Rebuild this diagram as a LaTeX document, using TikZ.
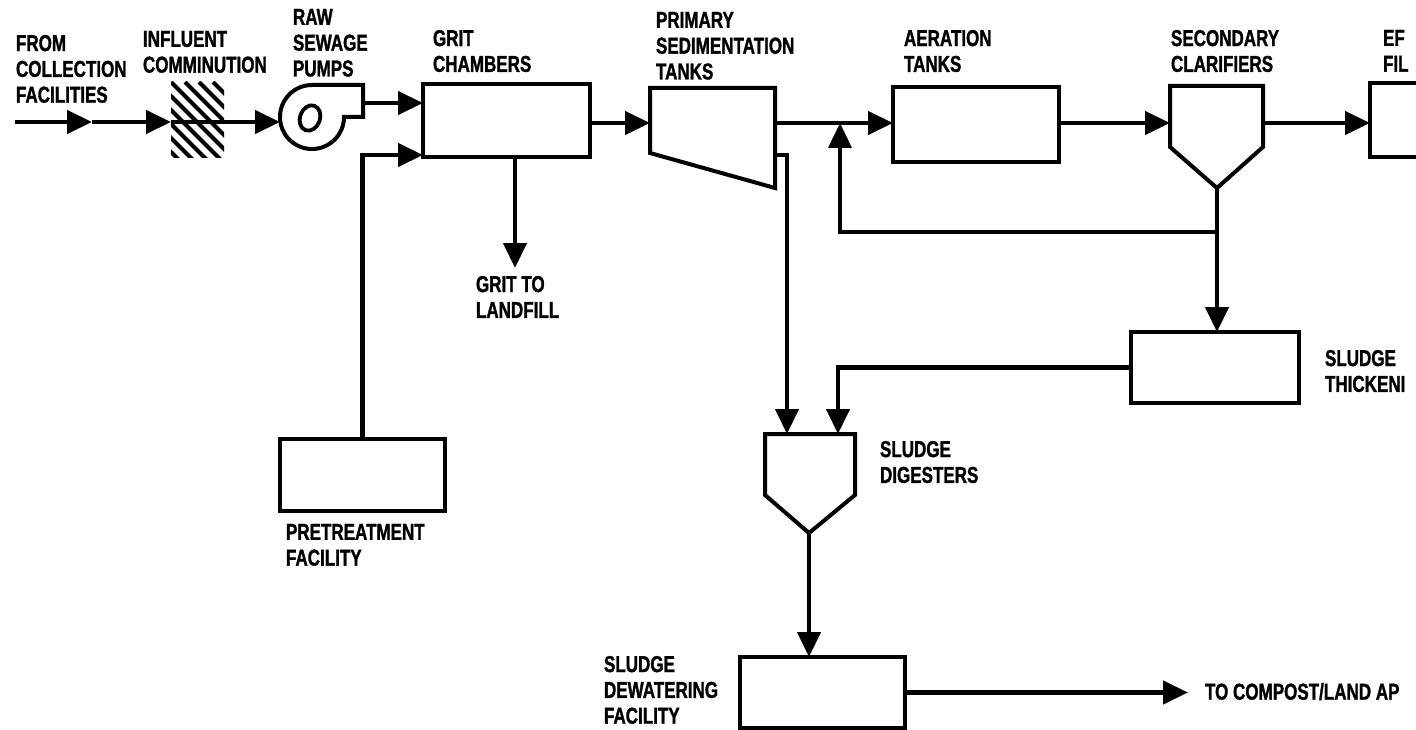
\documentclass[tikz,border=0pt]{standalone}
\usepackage{fontspec}
\setmainfont{Liberation Sans}[FakeStretch=0.74, BoldFeatures={FakeBold=1.3}]
\usetikzlibrary{arrows.meta}
\begin{document}
\begin{tikzpicture}[x=1pt,y=-1pt,
  flow/.style={line width=4.3pt, -{Triangle[length=25pt,width=23pt]}},
  outline/.style={line width=4pt, line join=miter},
  box/.style={draw, line width=4pt, inner sep=0pt, outer sep=0pt},
  lbl/.style={anchor=north west, inner sep=0pt, outer sep=0pt, align=left,
    font=\fontsize{23}{25.8}\selectfont\bfseries},
]
\useasboundingbox (0,0) rectangle (1416,730);
\clip (0,0) rectangle (1416,730);

% ---------- boxes ----------
\node[box, minimum width=167pt, minimum height=73pt] (grit) at (506.5,120.5) {};
\node[box, minimum width=166pt, minimum height=75pt] (aer) at (976,124.5) {};
\node[box, minimum width=168pt, minimum height=71pt] (thick) at (1215,367.5) {};
\node[box, minimum width=165pt, minimum height=72pt] (pre) at (362.5,475) {};
\node[box, minimum width=165pt, minimum height=71pt] (dew) at (822.5,692.5) {};
\node[box, minimum width=90pt, minimum height=74pt] (eff) at (1415,120) {};

% ---------- comminutor (hatched) ----------
\node[inner sep=0pt, outer sep=0pt, minimum width=53pt, minimum height=76pt] (comm) at (197.5,120) {};
\begin{scope}
  \clip (comm.north west) rectangle (comm.south east);
  \foreach \k in {-7,...,4} \draw[line width=4pt] (171+14*\k,82) -- ++(100,100);
\end{scope}

% ---------- pump ----------
\draw[outline] (312,85) -- (363,85) -- (363,117) -- (344,117) arc[start angle=0, end angle=270, radius=32];
\draw[line width=3.8pt, rotate around={-20:(310,118)}] (310,118) ellipse [x radius=10, y radius=13];
\coordinate (pumpin) at (280,122);
\coordinate (pumpout) at (363,103);

% ---------- primary sedimentation tank ----------
\draw[outline] (650,88) -- (775,88) -- (775,188) -- (650,153) -- cycle;
\coordinate (pstin) at (650,123);
\coordinate (pstout) at (775,123);
\coordinate (pstsl) at (775,155);
\coordinate (slc) at (787,155);

% ---------- secondary clarifier ----------
\draw[outline] (1170,86) -- (1263,86) -- (1263,147) -- (1217,188) -- (1170,147) -- cycle;
\coordinate (clarin) at (1170,123);
\coordinate (clarout) at (1263,123);
\coordinate (clarpt) at (1217,188);

% ---------- digester ----------
\draw[outline] (765,434) -- (855,434) -- (855,495) -- (809,533) -- (765,495) -- cycle;
\coordinate (dgA) at (787,434);
\coordinate (dgB) at (838,434);
\coordinate (dgpt) at (809,533);

% ---------- other coordinates ----------
\coordinate (src) at (15,122);
\coordinate (a1) at (92,122);
\coordinate (preturn) at (362.5,155);
\coordinate (land) at (515,268);
\coordinate (jn) at (840,123);
\coordinate (retR) at (1217,232);
\coordinate (retL) at (840,232);
\coordinate (compost) at (1188,692.5);

% ---------- connectors ----------
\draw[flow] (src) -- (a1);
\draw[flow] (a1) -- (comm.west |- src);
\draw[flow] (comm.west |- src) -- (pumpin);
\draw[flow] (pumpout) -- (grit.west |- pumpout);
\draw[flow] (pre.north) -- (preturn) -- (grit.west |- preturn);
\draw[flow] (grit.south -| land) -- (land);
\draw[flow] (grit.east |- pstin) -- (pstin);
\draw[flow] (pstout) -- (aer.west |- pstout);
\draw[flow, line width=3.5pt] (retR) -- (retL) -- (jn);
\draw[flow] (aer.east |- clarin) -- (clarin);
\draw[flow] (clarout) -- (eff.west |- clarout);
\draw[flow] (clarpt) -- (thick.north -| clarpt);
\draw[flow] (pstsl) -- (slc) -- (dgA);
\draw[flow] (thick.west) -- (thick.west -| dgB) -- (dgB);
\draw[flow] (dgpt) -- (dew.north -| dgpt);
\draw[flow] (dew.east) -- (compost);

% ---------- labels ----------
\node[lbl] (tFrom) at (16,35) {FROM\\COLLECTION\\FACILITIES};
\node[lbl] (tComm) at (143,31) {INFLUENT\\COMMINUTION};
\node[lbl] (tPump) at (293,9) {RAW\\SEWAGE\\PUMPS};
\node[lbl] (tGrit) at (433,30) {GRIT\\CHAMBERS};
\node[lbl] (tPst) at (656,12) {PRIMARY\\SEDIMENTATION\\TANKS};
\node[lbl] (tAer) at (904,30) {AERATION\\TANKS};
\node[lbl] (tClar) at (1171,30) {SECONDARY\\CLARIFIERS};
\node[lbl] (tEff) at (1383,30) {EF\\FIL};
\node[lbl] (tLand) at (476,276) {GRIT TO\\LANDFILL};
\node[lbl] (tThick) at (1325,350) {SLUDGE\\THICKENI};
\node[lbl] (tDig) at (880,441) {SLUDGE\\DIGESTERS};
\node[lbl] (tPre) at (286,524) {PRETREATMENT\\FACILITY};
\node[lbl] (tDew) at (604,656) {SLUDGE\\DEWATERING\\FACILITY};
\node[lbl] (tComp) at (1205,683) {TO COMPOST/LAND AP};
\end{tikzpicture}
\end{document}
